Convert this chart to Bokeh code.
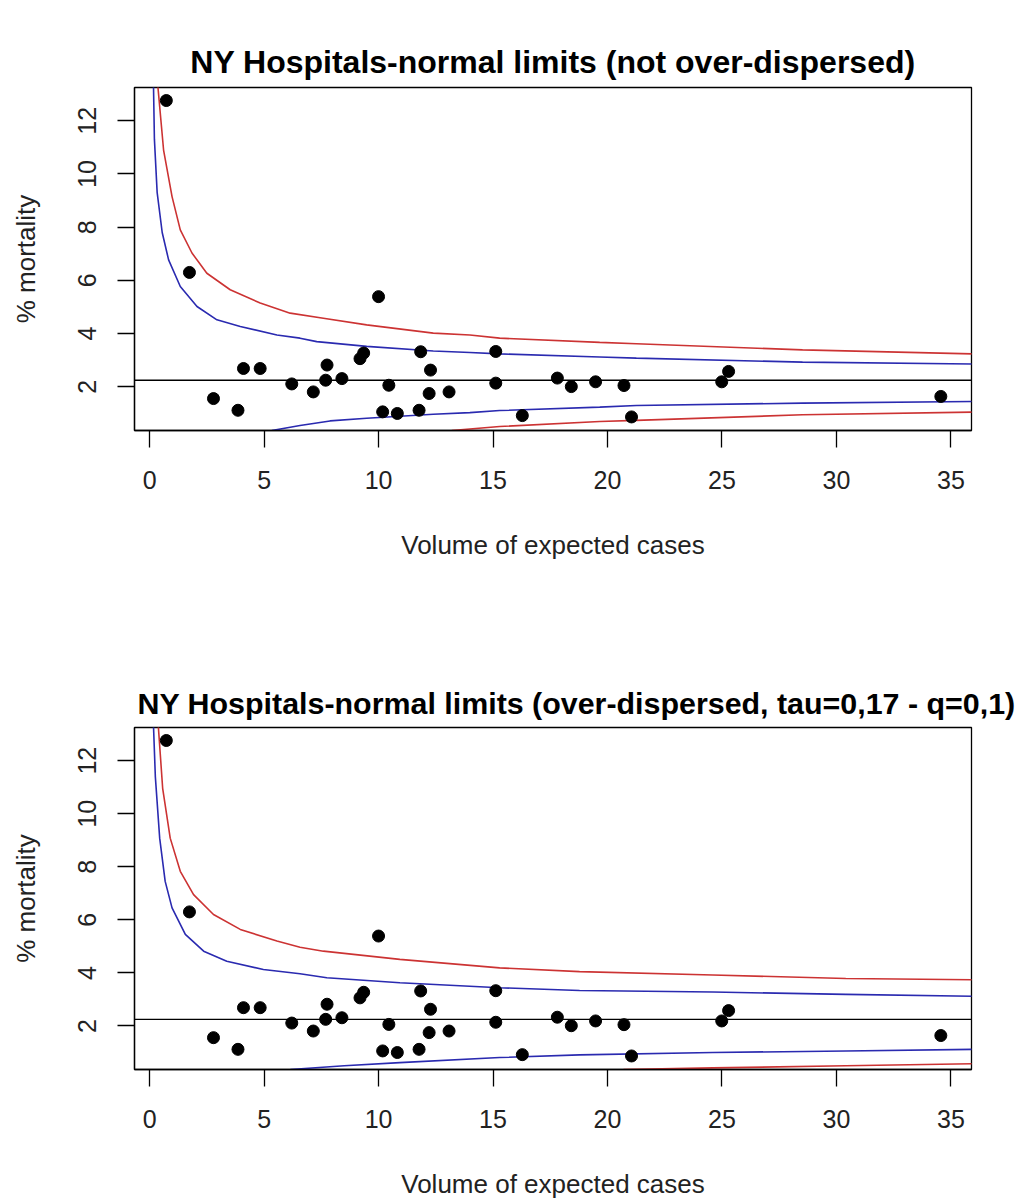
from bokeh.plotting import figure
from bokeh.models import FixedTicker, Span, LinearAxis
from bokeh.layouts import column
from bokeh.embed import file_html
from bokeh.resources import INLINE

# ---- data ----
volume = [0.73, 1.74, 2.79, 3.86, 4.10, 4.83, 6.21, 7.15, 7.69, 7.75, 8.40,
          9.19, 9.35, 10.00, 10.18, 10.45, 10.82, 11.77, 11.84, 12.21, 12.27,
          13.08, 15.12, 15.12, 16.28, 17.81, 18.42, 19.48, 20.72, 21.05,
          24.99, 25.29, 34.56]
mortality = [12.76, 6.30, 1.56, 1.12, 2.69, 2.69, 2.11, 1.81, 2.25, 2.82, 2.31,
             3.06, 3.27, 5.39, 1.06, 2.06, 1.00, 1.12, 3.32, 1.75, 2.63,
             1.81, 3.33, 2.14, 0.92, 2.33, 2.01, 2.19, 2.05, 0.87,
             2.19, 2.58, 1.64]
center_rate = 2.25

x_ticks = [0, 5, 10, 15, 20, 25, 30, 35]
y_ticks = [2, 4, 6, 8, 10, 12]

# panel 1: not over-dispersed
p1_up95_x = [0.17, 0.21, 0.33, 0.55, 0.83, 1.34, 2.07, 2.94, 3.96, 5.56, 6.57, 7.30, 9.48, 12.39, 13.99, 15.29, 19.66, 21.26, 28.52, 35.96]
p1_up95_y = [13.3, 11.3, 9.30, 7.80, 6.77, 5.77, 5.02, 4.52, 4.27, 3.95, 3.83, 3.70, 3.52, 3.35, 3.29, 3.24, 3.12, 3.08, 2.93, 2.86]
p1_up99_x = [0.36, 0.61, 0.98, 1.34, 1.85, 2.50, 3.52, 4.83, 6.14, 7.59, 9.48, 12.39, 13.99, 15.29, 19.66, 21.26, 28.52, 35.96]
p1_up99_y = [13.3, 10.9, 9.15, 7.90, 7.03, 6.27, 5.65, 5.15, 4.77, 4.58, 4.33, 4.02, 3.95, 3.83, 3.67, 3.62, 3.39, 3.24]
p1_lo95_x = [5.34, 6.57, 7.88, 9.48, 12.39, 13.99, 15.29, 19.66, 21.26, 28.52, 35.96]
p1_lo95_y = [0.36, 0.55, 0.72, 0.82, 0.97, 1.03, 1.11, 1.24, 1.30, 1.39, 1.45]
p1_lo99_x = [13.2, 15.29, 19.66, 21.26, 28.52, 35.96]
p1_lo99_y = [0.36, 0.51, 0.70, 0.74, 0.95, 1.05]

# panel 2: over-dispersed
p2_up95_x = [0.17, 0.25, 0.44, 0.68, 0.98, 1.56, 2.36, 3.37, 4.97, 6.57, 7.74, 10.93, 15.29, 18.78, 24.60, 30.41, 35.96]
p2_up95_y = [13.3, 11.4, 9.08, 7.45, 6.45, 5.45, 4.82, 4.44, 4.13, 3.97, 3.82, 3.63, 3.44, 3.34, 3.28, 3.19, 3.12]
p2_up99_x = [0.38, 0.57, 0.90, 1.34, 1.92, 2.79, 3.96, 5.56, 6.57, 7.59, 10.93, 15.29, 18.78, 24.60, 30.41, 35.96]
p2_up99_y = [13.3, 10.96, 9.08, 7.83, 6.95, 6.20, 5.64, 5.20, 4.97, 4.82, 4.51, 4.19, 4.05, 3.92, 3.79, 3.74]
p2_lo95_x = [6.15, 8.50, 10.93, 15.29, 18.78, 24.60, 30.41, 35.96]
p2_lo95_y = [0.36, 0.50, 0.62, 0.81, 0.91, 1.00, 1.06, 1.12]
p2_lo99_x = [20.7, 24.60, 30.41, 35.96]
p2_lo99_y = [0.36, 0.42, 0.50, 0.58]

titles = ["NY Hospitals-normal limits (not over-dispersed)",
          "NY Hospitals-normal limits (over-dispersed, tau=0,17 - q=0,1)"]
x_label = "Volume of expected cases"
y_label = "% mortality"

RED = "#cc3333"
BLUE = "#2a2ab0"
FONT = "Liberation Sans"


def make_panel(title, title_size, height, bottom, curves, title_align, title_offset):
    p = figure(width=1020, height=height, output_backend="svg", toolbar_location=None,
               x_range=(-0.66, 35.9), y_range=(0.36, 13.25),
               min_border_left=134, min_border_right=49,
               min_border_top=87, min_border_bottom=bottom,
               background_fill_color="white", border_fill_color="white")
    p.title.text = title
    p.title.text_font = FONT
    p.title.text_font_style = "bold"
    p.title.text_font_size = title_size
    p.title.align = title_align
    p.title.offset = title_offset
    p.title.standoff = 16
    p.title.text_color = "black"
    p.grid.visible = False
    p.outline_line_color = "black"
    p.outline_line_width = 1.3
    p.outline_line_alpha = 1.0

    xa = p.below[0]
    ya = p.left[0]
    for ax, ticks, lab in ((xa, x_ticks, x_label), (ya, y_ticks, y_label)):
        ax.ticker = FixedTicker(ticks=ticks)
        ax.axis_label = lab
        ax.axis_label_text_font = FONT
        ax.axis_label_text_font_style = "normal"
        ax.axis_label_text_font_size = "26px"
        ax.axis_label_text_color = "#222222"
        ax.major_label_text_font = FONT
        ax.major_label_text_font_size = "25px"
        ax.major_label_text_color = "#222222"
        ax.major_tick_out = 17
        ax.major_tick_in = 0
        ax.minor_tick_out = 0
        ax.minor_tick_in = 0
        ax.major_tick_line_color = "black"
        ax.major_tick_line_width = 1.3
        ax.axis_line_color = "black"
        ax.axis_line_width = 1.3
    xa.major_label_standoff = 23
    xa.axis_label_standoff = 38
    ya.major_label_orientation = "parallel"
    ya.major_label_standoff = 21
    ya.axis_label_standoff = 35

    # empty spacer axis above the frame (no ticks, no labels) to lift the title
    spacer = LinearAxis(ticker=FixedTicker(ticks=[]), major_tick_out=31, major_tick_in=0,
                        minor_tick_out=0, minor_tick_in=0, major_label_standoff=0,
                        axis_line_color=None, major_tick_line_color=None,
                        minor_tick_line_color=None)
    p.add_layout(spacer, "above")

    p.add_layout(Span(location=center_rate, dimension="width", line_color="black", line_width=1.4))
    for (xs, ys, col) in curves:
        p.line(xs, ys, line_color=col, line_width=1.6)
    p.scatter(volume, mortality, size=12, marker="circle", fill_color="black", line_color="black")
    return p


p1 = make_panel(titles[0], "32px", 640, 210,
                [(p1_up99_x, p1_up99_y, RED), (p1_up95_x, p1_up95_y, BLUE),
                 (p1_lo95_x, p1_lo95_y, BLUE), (p1_lo99_x, p1_lo99_y, RED)], "center", 0)
p2 = make_panel(titles[1], "30.4px", 561, 131,
                [(p2_up99_x, p2_up99_y, RED), (p2_up95_x, p2_up95_y, BLUE),
                 (p2_lo95_x, p2_lo95_y, BLUE), (p2_lo99_x, p2_lo99_y, RED)], "left", 3)

layout = column(p1, p2, spacing=0)
open("out.html", "w").write(file_html(layout, INLINE))
